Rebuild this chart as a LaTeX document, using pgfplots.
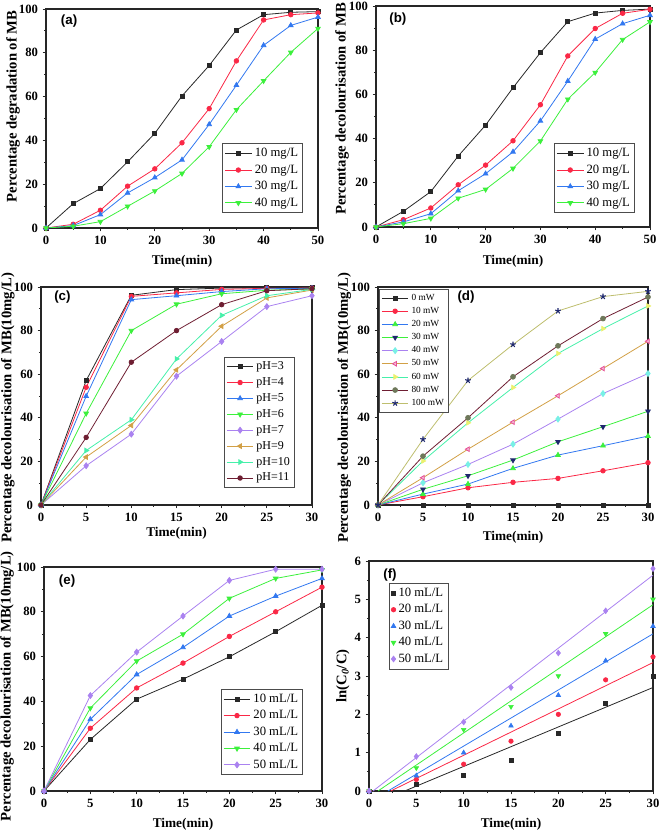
\documentclass[border=0pt]{standalone}
\usepackage{fontspec}
\setmainfont{Liberation Serif}
\setsansfont{Liberation Sans}
\usepackage{pgfplots}
\pgfplotsset{compat=1.18}

\definecolor{cblack}{RGB}{40,40,40}
\definecolor{cred}{RGB}{250,40,70}
\definecolor{cblue}{RGB}{50,120,240}
\definecolor{cgreen}{RGB}{60,240,60}
\definecolor{cviolet}{RGB}{170,130,240}
\definecolor{ctan}{RGB}{210,160,70}
\definecolor{caqua}{RGB}{70,240,170}
\definecolor{cwine}{RGB}{110,30,50}
\definecolor{cnavy}{RGB}{30,40,110}
\definecolor{ccyan}{RGB}{120,240,230}
\definecolor{cpink}{RGB}{230,80,150}
\definecolor{cyellow}{RGB}{235,240,110}
\definecolor{colive}{RGB}{110,120,90}
\definecolor{ckhaki}{RGB}{190,190,110}

\tikzset{plab/.style={font=\fontsize{10}{11}\selectfont\bfseries\sffamily}}
\pgfplotsset{
  panel/.style={
    scale only axis,
    axis line style={line width=0.9pt, draw=black!85},
    tick pos=left, tick align=outside,
    major tick length=2.5pt, minor tick length=1.5pt,
    tick style={line width=0.7pt, black!85},
    minor x tick num=1, minor y tick num=1,
    ymin=0,
    /pgf/number format/assume math mode=true,
    tick label style={font=\fontsize{9.5}{10}\selectfont\bfseries},
    xlabel style={font=\fontsize{10}{11}\selectfont\bfseries},
    ylabel style={font=\fontsize{11}{12}\selectfont\bfseries},
    xlabel={Time(min)},
    legend cell align=left,
    legend style={draw=black!70, line width=0.5pt, font=\fontsize{9.5}{10}\selectfont, inner sep=1.5pt, row sep=0.5pt},
    legend image code/.code={\draw[mark repeat=2,mark phase=2] plot coordinates {(0pt,0pt) (10pt,0pt) (20pt,0pt)};},
  },
  s1/.style={cblack, mark=square*, mark size=1.5pt, line width=0.6pt},
  s2/.style={cred, mark=*, mark size=1.7pt, line width=0.6pt},
  s3/.style={cblue, mark=triangle*, mark size=2pt, line width=0.6pt},
  s4/.style={cgreen, mark=triangle*, mark options={rotate=180}, mark size=2pt, line width=0.6pt},
  s5/.style={cviolet, mark=diamond*, mark size=2.2pt, line width=0.6pt},
}

\begin{document}
\begin{tikzpicture}
\useasboundingbox (0pt,0pt) rectangle (495.75pt,627pt);

% (a)
\begin{axis}[panel, at={(34.5pt,456pt)}, anchor=south west, width=204pt, height=164.25pt,
  xmin=0, xmax=50, ymax=100, xtick={0,10,...,50}, ytick={0,20,...,100},
  ylabel={Percentage degradation of MB},
  ylabel style={at={(axis description cs:-0.121,0.555)}, anchor=center},
  xlabel style={at={(axis description cs:0.5,-0.15)}, anchor=center},
  legend style={at={(0.945,0.068)}, anchor=south east}]
\addplot[s1] coordinates {(0,0) (5,11.1) (10,18) (15,30.2) (20,43.2) (25,60.3) (30,74.2) (35,90.4) (40,97.4) (45,98.5) (50,98.8)};
\addplot[s2] coordinates {(0,0) (5,1.7) (10,8.1) (15,19.1) (20,27) (25,38.9) (30,54.5) (35,76.3) (40,95) (45,97.4) (50,98.2)};
\addplot[s3] coordinates {(0,0) (5,1.1) (10,6.1) (15,16) (20,23) (25,31.1) (30,47.3) (35,65.2) (40,83.4) (45,92.5) (50,96.3)};
\addplot[s4] coordinates {(0,0) (5,0.8) (10,2.9) (15,9.9) (20,16.9) (25,24.9) (30,37.1) (35,54) (40,67.2) (45,80.2) (50,91.1)};
\legend{10 mg/L,20 mg/L,30 mg/L,40 mg/L}
\node[plab] at (axis description cs:0.085,0.945) {(a)};
\end{axis}

% (b)
\begin{axis}[panel, at={(282pt,456.75pt)}, anchor=south west, width=205.5pt, height=165.75pt,
  xmin=0, xmax=50, ymax=100, xtick={0,10,...,50}, ytick={0,20,...,100},
  ylabel={Percentage decolourisation of MB},
  ylabel style={at={(axis description cs:-0.124,0.534)}, anchor=center},
  xlabel style={at={(axis description cs:0.5,-0.154)}, anchor=center},
  legend style={at={(0.945,0.063)}, anchor=south east}]
\addplot[s1] coordinates {(0,0) (5,7.1) (10,16) (15,32.1) (20,46.1) (25,63) (30,78.9) (35,92.9) (40,96.8) (45,98) (50,98.6)};
\addplot[s2] coordinates {(0,0) (5,3.3) (10,8.6) (15,19.1) (20,28) (25,39) (30,55.3) (35,77.4) (40,89.8) (45,96.7) (50,98.5)};
\addplot[s3] coordinates {(0,0) (5,2.3) (10,6) (15,16.4) (20,24.1) (25,34) (30,48) (35,66) (40,85) (45,92) (50,95.8)};
\addplot[s4] coordinates {(0,0) (5,1.5) (10,3.9) (15,13) (20,17) (25,26.5) (30,38.9) (35,57.8) (40,69.9) (45,84.8) (50,92.8)};
\legend{10 mg/L,20 mg/L,30 mg/L,40 mg/L}
\node[plab] at (axis description cs:0.08,0.94) {(b)};
\end{axis}

% (c)
\begin{axis}[panel, at={(30.75pt,248.25pt)}, anchor=south west, width=203.25pt, height=163.5pt,
  xmin=0, xmax=30, ymax=100, xtick={0,5,...,30}, ytick={0,20,...,100},
  ylabel={Percentage decolourisation of MB(10mg/L)},
  ylabel style={at={(axis description cs:-0.122,0.445)}, anchor=center},
  xlabel style={at={(axis description cs:0.5,-0.13)}, anchor=center},
  legend style={at={(0.937,0.078)}, anchor=south east, font=\fontsize{9}{10}\selectfont}]
\addplot[s1] coordinates {(0,0) (5,57.1) (10,96.2) (15,98.8) (20,99.5) (25,99.7) (30,99.7)};
\addplot[s2] coordinates {(0,0) (5,54) (10,95.7) (15,97.3) (20,98.9) (25,99.4) (30,99.5)};
\addplot[s3] coordinates {(0,0) (5,49.9) (10,94.2) (15,96) (20,97.9) (25,99.2) (30,99.4)};
\addplot[s4] coordinates {(0,0) (5,42) (10,80) (15,92.1) (20,96.9) (25,98.5) (30,99.1)};
\addplot[s5] coordinates {(0,0) (5,18) (10,32.5) (15,59.1) (20,75) (25,91) (30,96)};
\addplot[ctan, mark=triangle*, mark options={rotate=90}, mark size=2pt, line width=0.6pt] coordinates {(0,0) (5,22) (10,36.5) (15,62) (20,82) (25,95) (30,98.6)};
\addplot[caqua, mark=triangle*, mark options={rotate=-90}, mark size=2pt, line width=0.6pt] coordinates {(0,0) (5,25) (10,39.1) (15,67) (20,87) (25,96) (30,98.9)};
\addplot[cwine, mark=*, mark size=1.7pt, line width=0.6pt] coordinates {(0,0) (5,31) (10,65.5) (15,80) (20,91.9) (25,98.3) (30,99.2)};
\legend{pH=3,pH=4,pH=5,pH=6,pH=7,pH=9,pH=10,pH=11}
\node[plab] at (axis description cs:0.079,0.956) {(c)};
\end{axis}

% (d)
\begin{axis}[panel, at={(283.5pt,248.25pt)}, anchor=south west, width=202.5pt, height=163.5pt,
  xmin=0, xmax=30, ymax=100, xtick={0,5,...,30}, ytick={0,20,...,100},
  ylabel={Percentage decolourisation of MB(10mg/L)},
  ylabel style={at={(axis description cs:-0.125,0.445)}, anchor=center},
  xlabel style={at={(axis description cs:0.5,-0.147)}, anchor=center},
  legend style={at={(0.004,0.991)}, anchor=north west, font=\fontsize{7}{8}\selectfont, row sep=-0.3pt}]
\addplot[cblack, mark=square*, mark size=1.5pt, line width=0.6pt] coordinates {(0,0) (5,0) (10,0) (15,0) (20,0) (25,0) (30,0)};
\addplot[cred, mark=*, mark size=1.7pt, line width=0.6pt] coordinates {(0,0) (5,3.8) (10,7.9) (15,10.4) (20,12.2) (25,15.7) (30,19.4)};
\addplot[cblue, mark=triangle*, mark size=2pt, line width=0.6pt, mark options={fill=cgreen, draw=cgreen}] coordinates {(0,0) (5,5) (10,9.6) (15,16.8) (20,22.9) (25,27.2) (30,31.6)};
\addplot[cgreen, mark=triangle*, mark size=2pt, line width=0.6pt, mark options={rotate=180, fill=cnavy, draw=cnavy}] coordinates {(0,0) (5,7.2) (10,13.4) (15,20.6) (20,29) (25,35.9) (30,43)};
\addplot[cviolet, mark=diamond*, mark size=2.2pt, line width=0.6pt, mark options={fill=ccyan, draw=ccyan}] coordinates {(0,0) (5,10.2) (10,18.6) (15,27.9) (20,39.4) (25,51.1) (30,60.3)};
\addplot[ctan, mark=triangle*, mark size=2pt, line width=0.6pt, mark options={rotate=90, fill=cpink!40, draw=cpink}] coordinates {(0,0) (5,12.5) (10,25.6) (15,38) (20,50.1) (25,62.6) (30,75.1)};
\addplot[caqua, mark=triangle*, mark size=2pt, line width=0.6pt, mark options={rotate=-90, fill=cyellow, draw=cyellow}] coordinates {(0,0) (5,20.2) (10,37.7) (15,53.9) (20,69.5) (25,80.9) (30,91.3)};
\addplot[cwine, mark=*, mark size=1.8pt, line width=0.6pt, mark options={fill=colive, draw=colive}] coordinates {(0,0) (5,22.4) (10,40) (15,58.8) (20,73) (25,85.5) (30,95.4)};
\addplot[ckhaki, mark=star, mark size=2.2pt, line width=0.6pt, mark options={draw=cnavy, line width=0.8pt}] coordinates {(0,0) (5,30.1) (10,57.1) (15,73.6) (20,89) (25,95.6) (30,98)};
\legend{0 mW,10 mW,20 mW,30 mW,40 mW,50 mW,60 mW,80 mW,100 mW}
\node[plab] at (axis description cs:0.326,0.956) {(d)};
\end{axis}

% (e)
\begin{axis}[panel, at={(33pt,33.75pt)}, anchor=south west, width=208.5pt, height=168pt,
  xmin=0, xmax=30, ymax=100, xtick={0,5,...,30}, ytick={0,20,...,100},
  ylabel={Percentage decolourisation of MB(10mg/L)},
  ylabel style={at={(axis description cs:-0.133,0.468)}, anchor=center},
  xlabel style={at={(axis description cs:0.5,-0.147)}, anchor=center},
  legend style={at={(0.932,0.071)}, anchor=south east}]
\addplot[s1] coordinates {(0,0) (5,23) (10,41) (15,49.9) (20,59.9) (25,71.1) (30,82.9)};
\addplot[s2] coordinates {(0,0) (5,28) (10,46) (15,57.1) (20,69) (25,80) (30,91)};
\addplot[s3] coordinates {(0,0) (5,32) (10,52) (15,64.1) (20,78.1) (25,87) (30,94.9)};
\addplot[s4] coordinates {(0,0) (5,37) (10,58) (15,70) (20,86) (25,94.9) (30,98.7)};
\addplot[s5] coordinates {(0,0) (5,42.6) (10,62) (15,78.1) (20,94) (25,99) (30,99)};
\legend{10 mL/L,20 mL/L,30 mL/L,40 mL/L,50 mL/L}
\node[plab] at (axis description cs:0.083,0.9375) {(e)};
\end{axis}

% (f)
\begin{axis}[panel, at={(276.75pt,33.75pt)}, anchor=south west, width=213pt, height=172.5pt,
  xmin=0, xmax=30, ymax=6, xtick={0,5,...,30}, ytick={0,1,...,6},
  ylabel={ln(C\textsubscript{\itshape 0}/C)},
  ylabel style={at={(axis description cs:-0.092,0.5)}, anchor=center},
  xlabel style={at={(axis description cs:0.5,-0.143)}, anchor=center},
  legend style={at={(0.07,0.904)}, anchor=north west},
  legend image code/.code={\draw plot coordinates {(10pt,0pt)};}]
\addplot[only marks, cblack, mark=square*, mark size=1.5pt] coordinates {(0,0) (5,0.18) (10,0.4) (15,0.8) (20,1.5) (25,2.3) (30,3.0)};
\addplot[only marks, cred, mark=*, mark size=1.7pt] coordinates {(0,0) (5,0.3) (10,0.7) (15,1.3) (20,2.0) (25,2.9) (30,3.5)};
\addplot[only marks, cblue, mark=triangle*, mark size=2pt] coordinates {(0,0) (5,0.4) (10,1.0) (15,1.7) (20,2.5) (25,3.4) (30,4.3)};
\addplot[only marks, cgreen, mark=triangle*, mark options={rotate=180}, mark size=2pt] coordinates {(0,0) (5,0.6) (10,1.6) (15,2.2) (20,3.0) (25,4.1) (30,5.0)};
\addplot[only marks, cviolet, mark=diamond*, mark size=2.2pt] coordinates {(0,0) (5,0.9) (10,1.8) (15,2.7) (20,3.6) (25,4.7) (30,5.8)};
\addplot[no marks, cblack, line width=0.6pt, forget plot] coordinates {(3.77,0) (30,2.70)};
\addplot[no marks, cred, line width=0.6pt, forget plot] coordinates {(2.29,0) (30,3.35)};
\addplot[no marks, cblue, line width=0.6pt, forget plot] coordinates {(2.0,0) (30,4.10)};
\addplot[no marks, cgreen, line width=0.6pt, forget plot] coordinates {(0.95,0) (30,4.86)};
\addplot[no marks, cviolet, line width=0.6pt, forget plot] coordinates {(0.42,0) (30,5.63)};
\legend{10 mL/L,20 mL/L,30 mL/L,40 mL/L,50 mL/L}
\node[plab] at (axis description cs:0.074,0.939) {(f)};
\end{axis}
\end{tikzpicture}
\end{document}
